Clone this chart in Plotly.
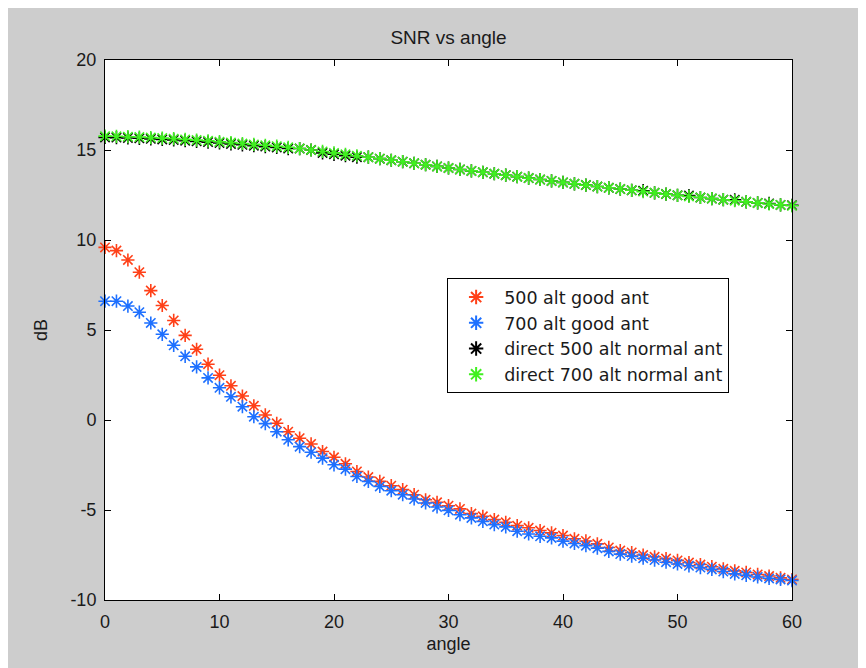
import plotly.graph_objects as go

angles = list(range(0, 61))

red_500_good = [9.59, 9.41, 8.89, 8.21, 7.19, 6.36, 5.53, 4.70, 3.93, 3.10,
                2.49, 1.90, 1.33, 0.79, 0.28, -0.18, -0.65, -1.01, -1.33, -1.75,
                -2.07, -2.43, -2.86, -3.17, -3.41, -3.65, -3.87, -4.15, -4.43, -4.57,
                -4.76, -4.94, -5.20, -5.35, -5.53, -5.68, -5.87, -5.99, -6.14, -6.27,
                -6.42, -6.60, -6.72, -6.88, -7.08, -7.25, -7.36, -7.50, -7.60, -7.70,
                -7.80, -7.92, -8.03, -8.15, -8.27, -8.38, -8.47, -8.58, -8.67, -8.77,
                -8.86]

blue_700_good = [6.60, 6.60, 6.33, 5.99, 5.39, 4.76, 4.15, 3.54, 2.95, 2.34,
                 1.79, 1.29, 0.74, 0.18, -0.20, -0.65, -1.10, -1.48, -1.79, -2.12,
                 -2.49, -2.73, -3.14, -3.41, -3.69, -3.93, -4.15, -4.39, -4.61, -4.83,
                 -5.02, -5.26, -5.44, -5.63, -5.81, -5.94, -6.18, -6.33, -6.46, -6.55,
                 -6.73, -6.86, -6.98, -7.12, -7.30, -7.45, -7.56, -7.68, -7.78, -7.90,
                 -8.00, -8.10, -8.20, -8.30, -8.42, -8.55, -8.63, -8.72, -8.80, -8.86,
                 -8.92]

green_700_normal = [15.77, 15.76, 15.74, 15.72, 15.69, 15.66, 15.63, 15.59, 15.55, 15.51,
                    15.46, 15.41, 15.36, 15.31, 15.26, 15.21, 15.15, 15.08, 15.00, 14.92,
                    14.84, 14.76, 14.68, 14.60, 14.52, 14.43, 14.35, 14.26, 14.18, 14.09,
                    14.00, 13.92, 13.84, 13.76, 13.68, 13.60, 13.52, 13.44, 13.36, 13.28,
                    13.20, 13.12, 13.05, 12.97, 12.90, 12.83, 12.76, 12.69, 12.62, 12.55,
                    12.48, 12.42, 12.36, 12.30, 12.24, 12.18, 12.12, 12.06, 12.00, 11.95,
                    11.90]

black_500_normal = [15.70, 15.69, 15.67, 15.65, 15.62, 15.59, 15.56, 15.52, 15.48, 15.44,
                    15.39, 15.34, 15.29, 15.24, 15.19, 15.14, 15.08, 15.08, 15.00, 14.84,
                    14.76, 14.68, 14.60, 14.60, 14.52, 14.43, 14.35, 14.26, 14.18, 14.09,
                    14.00, 13.92, 13.84, 13.76, 13.68, 13.60, 13.52, 13.44, 13.36, 13.28,
                    13.20, 13.12, 13.05, 12.97, 12.90, 12.83, 12.76, 12.74, 12.62, 12.55,
                    12.48, 12.47, 12.36, 12.30, 12.24, 12.23, 12.12, 12.06, 12.03, 11.95,
                    11.93]

x_ticks = [0, 10, 20, 30, 40, 50, 60]
y_ticks = [-10, -5, 0, 5, 10, 15, 20]

series = [
    ("500 alt good ant", red_500_good, "rgb(255,64,24)"),
    ("700 alt good ant", blue_700_good, "rgb(30,112,255)"),
    ("direct 500 alt normal ant", black_500_normal, "rgb(0,0,0)"),
    ("direct 700 alt normal ant", green_700_normal, "rgb(64,240,32)"),
]

fig = go.Figure()
for name, vals, col in series:
    fig.add_trace(go.Scatter(
        x=angles, y=vals, mode="markers", name=name,
        marker=dict(symbol="asterisk-open", size=11, color=col,
                    line=dict(color=col, width=1.6)),
        cliponaxis=False,
    ))

font = "Liberation Sans, Arial, sans-serif"
fig.update_layout(
    width=858, height=660,
    margin=dict(l=97, r=74, t=52, b=68),
    paper_bgcolor="rgb(205,205,205)",
    plot_bgcolor="white",
    font=dict(family=font, size=18, color="#1a1a1a"),
    title=dict(text="SNR vs angle", x=0.5, xref="paper", xanchor="center",
               y=1 - 29 / 660, yanchor="middle", font=dict(size=19, family=font)),
    showlegend=True,
    legend=dict(x=0.498, y=0.596, xanchor="left", yanchor="top",
                bgcolor="white", bordercolor="black", borderwidth=1,
                font=dict(size=17.5, family="DejaVu Sans, sans-serif"),
                itemsizing="constant", itemwidth=46),
)
fig.update_xaxes(
    range=[0, 60], tickvals=x_ticks, ticktext=[str(v) for v in x_ticks],
    ticks="inside", ticklen=6, tickcolor="black", mirror="allticks",
    showline=True, linecolor="black", linewidth=1, showgrid=False, zeroline=False,
    title=dict(text="angle", standoff=6, font=dict(size=18)), tickfont=dict(size=18),
    ticklabelstandoff=5,
)
fig.update_yaxes(
    range=[-10, 20], tickvals=y_ticks, ticktext=[str(v) for v in y_ticks],
    ticks="inside", ticklen=6, tickcolor="black", mirror="allticks",
    showline=True, linecolor="black", linewidth=1, showgrid=False, zeroline=False,
    title=dict(text="dB", standoff=18, font=dict(size=18)), tickfont=dict(size=18),
    ticklabelstandoff=4,
)

fig.write_html("out.html")
